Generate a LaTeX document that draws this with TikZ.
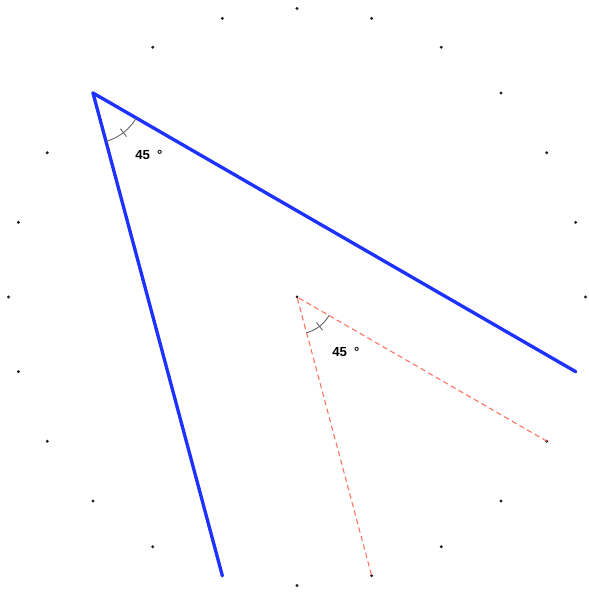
\documentclass[tikz,border=0pt]{standalone}
\usepackage{fontspec}
\setmainfont{Liberation Sans}
\usepackage{xcolor}
\usepackage{tikz}
\usetikzlibrary{calc}
\definecolor{ChordBlue}{HTML}{1E32FF}
\definecolor{RayRed}{HTML}{FF6E5A}
\definecolor{MarkGray}{HTML}{646464}
\definecolor{Ink}{HTML}{202020}

\begin{document}
\begin{tikzpicture}[x=0.02cm,y=0.02cm,
  dot/.style={circle,fill=Ink,inner sep=0pt,minimum size=0.065cm},
  chord/.style={draw=ChordBlue,line width=1.9pt,line cap=round,line join=round},
  ray/.style={draw=RayRed,line width=0.6pt,dash pattern=on 3pt off 2pt},
  anglemark/.style={draw=MarkGray,line width=0.5pt},
  deg/.style={font=\fontsize{7.5}{8}\selectfont\bfseries,inner sep=0pt,anchor=west}
]
\useasboundingbox (-297,-297) rectangle (291,297);
\node[dot,minimum size=0.06cm] (O) at (0,0) {};
\foreach \i in {0,...,23}
  \node[dot] (p\i) at (15*\i:288.5) {};

\draw[chord] (p23.center) -- (p9.center) -- (p17.center);
\draw[ray] (p22.center) -- (O.center) -- (p19.center);

% inscribed angle
\draw[anglemark] ($(p9.center)+(-75:50)$) arc[start angle=-75,end angle=-30,radius=50];
\draw[anglemark] ($(p9.center)+(-52.5:45)$) -- ($(p9.center)+(-52.5:55)$);
\node[deg] (lab1) at ($(p9.center)+(42,-62)$) {45\hspace{4pt}°};

% central angle
\draw[anglemark] ($(O.center)+(-75:37)$) arc[start angle=-75,end angle=-30,radius=37];
\draw[anglemark] ($(O.center)+(-52.5:32)$) -- ($(O.center)+(-52.5:42)$);
\node[deg] (lab2) at ($(O.center)+(35,-55)$) {45\hspace{4pt}°};
\end{tikzpicture}
\end{document}
